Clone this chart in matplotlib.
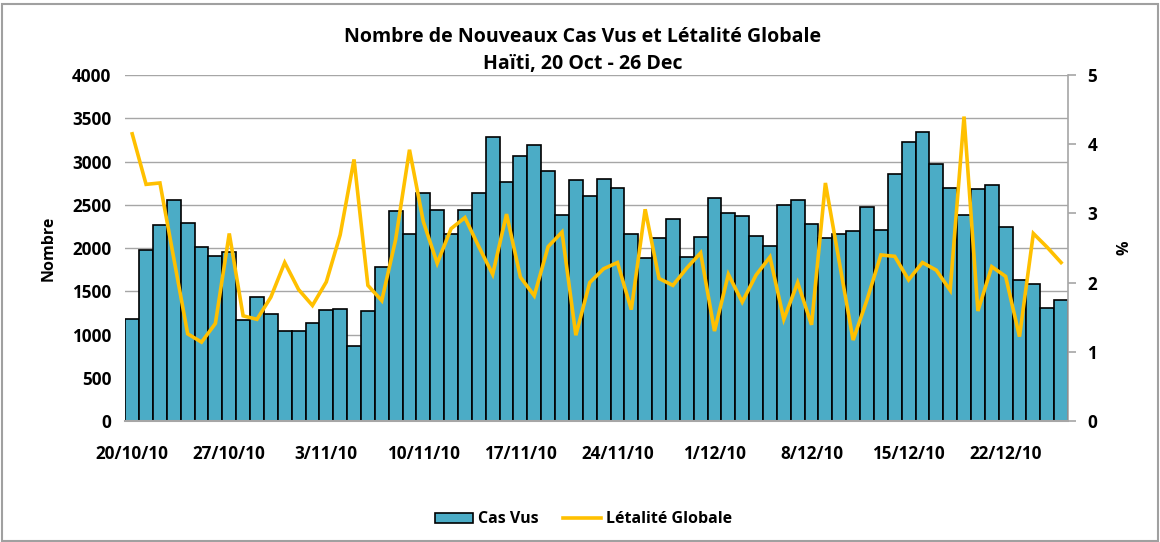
import matplotlib
matplotlib.use("Agg")
import matplotlib.pyplot as plt
from matplotlib.patches import Rectangle
import numpy as np

plt.rcParams['font.family'] = ['Open Sans', 'DejaVu Sans']
plt.rcParams['font.weight'] = 'bold'

# daily new cases seen, 20/10/10 .. 26/12/10
cas_vus = [1183, 1980, 2262, 2555, 2289, 2008, 1904, 1950, 1171, 1433,
           1233, 1044, 1044, 1129, 1287, 1295, 870, 1272, 1780, 2424,
           2166, 2632, 2439, 2162, 2439, 2632, 3283, 2767, 3067, 3187,
           2890, 2381, 2786, 2597, 2801, 2697, 2158, 1884, 2119, 2332,
           1899, 2127, 2581, 2401, 2366, 2142, 2023, 2497, 2555, 2281,
           2119, 2158, 2200, 2478, 2212, 2852, 3225, 3337, 2967, 2697,
           2385, 2682, 2732, 2239, 1630, 1580, 1306, 1399]

# overall case fatality, %
letalite = [4.15, 3.42, 3.44, 2.35, 1.26, 1.14, 1.41, 2.71, 1.52, 1.47,
            1.79, 2.29, 1.90, 1.67, 2.01, 2.69, 3.78, 1.96, 1.74, 2.62,
            3.92, 2.88, 2.28, 2.78, 2.94, 2.52, 2.12, 2.99, 2.08, 1.81,
            2.52, 2.73, 1.24, 2.00, 2.20, 2.29, 1.61, 3.06, 2.06, 1.96,
            2.21, 2.43, 1.30, 2.12, 1.72, 2.11, 2.37, 1.47, 2.00, 1.39,
            3.44, 2.30, 1.17, 1.75, 2.40, 2.38, 2.04, 2.29, 2.18, 1.89,
            4.40, 1.59, 2.23, 2.09, 1.22, 2.71, 2.51, 2.29]

tick_labels = ['20/10/10', '27/10/10', '3/11/10', '10/11/10', '17/11/10',
               '24/11/10', '1/12/10', '8/12/10', '15/12/10', '22/12/10']

bar_color = '#4BACC6'
line_color = '#FFC000'
grid_color = '#A6A6A6'

x = np.arange(len(cas_vus))

fig = plt.figure(figsize=(11.6, 5.42), dpi=100)
ax = fig.add_axes([0.108, 0.2232, 0.8127, 0.6384])

ax.bar(x, cas_vus, width=1.0, color=bar_color, edgecolor='black',
       linewidth=1.2, label='Cas Vus', zorder=2)
ax.set_xlim(-0.5, len(cas_vus) - 0.5)
ax.set_ylim(0, 4000)
ax.set_yticks(np.arange(0, 4001, 500))
ax.set_xticks(np.arange(0, len(cas_vus), 7))
ax.set_xticklabels(tick_labels)
ax.yaxis.grid(True, color=grid_color, linewidth=1.0, zorder=0)
ax.set_axisbelow(True)
ax.tick_params(axis='both', length=0, labelsize=12.3, pad=10)
ax.tick_params(axis='x', pad=17)
ax.set_ylabel('Nombre', fontsize=11.5, fontweight='bold', labelpad=11)
for s in ['top', 'left', 'right']:
    ax.spines[s].set_visible(False)
ax.spines['bottom'].set_color(grid_color)
ax.spines['bottom'].set_linewidth(1.5)

ax2 = ax.twinx()
ax2.plot(x, letalite, color=line_color, linewidth=2.6, label='Létalité Globale',
         solid_joinstyle='miter', zorder=3)
ax2.set_ylim(0, 5)
ax2.set_yticks(range(0, 6))
ax2.tick_params(axis='y', length=6, color=grid_color, width=1.2,
                labelsize=12.3, pad=8)
ax2.set_ylabel('%', fontsize=11.5, fontweight='bold', labelpad=14)
for s in ['top', 'left', 'bottom']:
    ax2.spines[s].set_visible(False)
ax2.spines['right'].set_color(grid_color)
ax2.spines['right'].set_linewidth(1.2)

fig.text(0.502, 0.932, 'Nombre de Nouveaux Cas Vus et Létalité Globale',
         ha='center', va='center', fontsize=14, fontweight='bold')
fig.text(0.502, 0.882, 'Haïti, 20 Oct - 26 Dec',
         ha='center', va='center', fontsize=14, fontweight='bold')

h1, l1 = ax.get_legend_handles_labels()
h2, l2 = ax2.get_legend_handles_labels()
fig.legend(h1 + h2, l1 + l2, loc='center', bbox_to_anchor=(0.503, 0.042),
           ncol=2, frameon=False, fontsize=11.5, handlelength=2.4,
           handleheight=0.6, columnspacing=1.5, handletextpad=0.3)

fig.patches.append(Rectangle((0.002, 0.002), 0.996, 0.99, transform=fig.transFigure,
                             fill=False, edgecolor='#A0A0A0', linewidth=1.5))

fig.savefig('out.png', dpi=100)
